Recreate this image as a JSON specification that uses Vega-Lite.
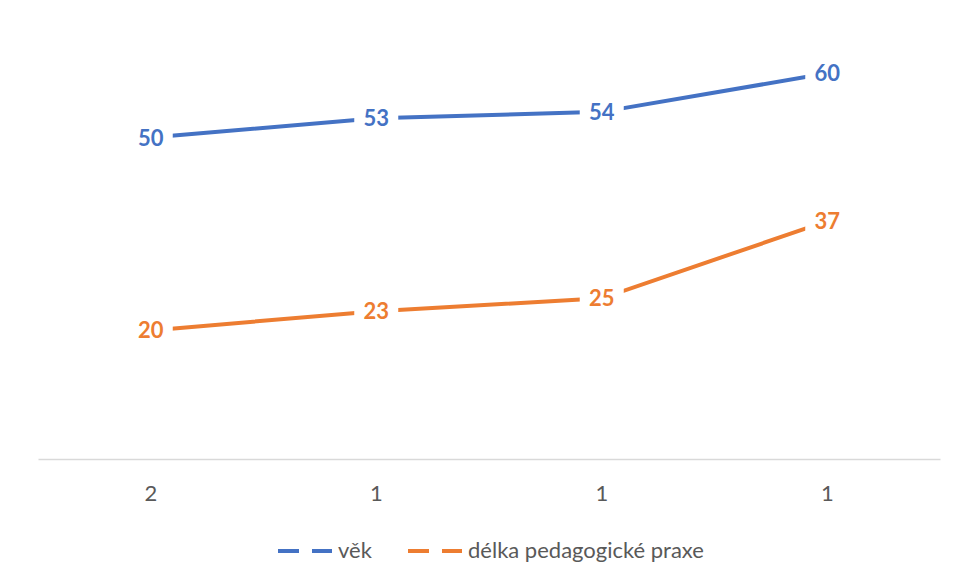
{
  "$schema": "https://vega.github.io/schema/vega-lite/v6.json",
  "width": 902,
  "height": 450,
  "padding": {"left": 38, "top": 9, "right": 17, "bottom": 0},
  "background": "white",
  "data": {
    "values": [
      {"poradi": 1, "rada": "věk", "hodnota": 50},
      {"poradi": 2, "rada": "věk", "hodnota": 53},
      {"poradi": 3, "rada": "věk", "hodnota": 54},
      {"poradi": 4, "rada": "věk", "hodnota": 60},
      {"poradi": 1, "rada": "délka pedagogické praxe", "hodnota": 20},
      {"poradi": 2, "rada": "délka pedagogické praxe", "hodnota": 23},
      {"poradi": 3, "rada": "délka pedagogické praxe", "hodnota": 25},
      {"poradi": 4, "rada": "délka pedagogické praxe", "hodnota": 37}
    ]
  },
  "encoding": {
    "x": {
      "field": "poradi",
      "type": "ordinal",
      "scale": {"type": "band", "paddingInner": 0, "paddingOuter": 0},
      "axis": {
        "title": null,
        "labelAngle": 0,
        "labelExpr": "datum.value == 1 ? '2' : '1'",
        "ticks": false,
        "grid": false,
        "domainColor": "#D9D9D9",
        "domainWidth": 1.5,
        "labelColor": "#595959",
        "labelFont": "Lato",
        "labelFontSize": 22,
        "labelPadding": 24
      }
    },
    "y": {
      "field": "hodnota",
      "type": "quantitative",
      "scale": {"domain": [0, 70], "nice": false},
      "axis": null
    },
    "color": {
      "field": "rada",
      "type": "nominal",
      "scale": {"domain": ["věk", "délka pedagogické praxe"], "range": ["#4472C4", "#ED7D31"]}
    }
  },
  "layer": [
    {
      "mark": {"type": "line", "strokeWidth": 4, "strokeCap": "butt"},
      "encoding": {
        "color": {
          "field": "rada",
          "type": "nominal",
          "scale": {"domain": ["věk", "délka pedagogické praxe"], "range": ["#4472C4", "#ED7D31"]},
          "legend": {
            "title": null,
            "orient": "none",
            "legendX": 238,
            "legendY": 513,
            "direction": "horizontal",
            "symbolType": "stroke",
            "symbolSize": 2916,
            "symbolStrokeWidth": 4,
            "symbolDash": [21, 13],
            "labelFont": "Lato",
            "labelFontSize": 22,
            "labelColor": "#595959",
            "labelLimit": 0,
            "labelOffset": 4,
            "columnPadding": 28,
            "padding": 0
          }
        }
      }
    },
    {
      "mark": {"type": "point", "shape": "M-1,-0.5H1V0.5H-1Z", "filled": true, "fill": "white", "opacity": 1, "strokeWidth": 0, "size": 1936},
      "encoding": {"color": {"value": "white"}}
    },
    {
      "mark": {"type": "text", "font": "Lato", "fontWeight": "bold", "fontSize": 22, "align": "center", "baseline": "middle", "dy": 1},
      "encoding": {
        "text": {"field": "hodnota", "type": "quantitative"},
        "color": {
          "field": "rada",
          "type": "nominal",
          "scale": {"domain": ["věk", "délka pedagogické praxe"], "range": ["#4472C4", "#ED7D31"]},
          "legend": null
        }
      }
    }
  ],
  "config": {
    "view": {"stroke": null}
  }
}
